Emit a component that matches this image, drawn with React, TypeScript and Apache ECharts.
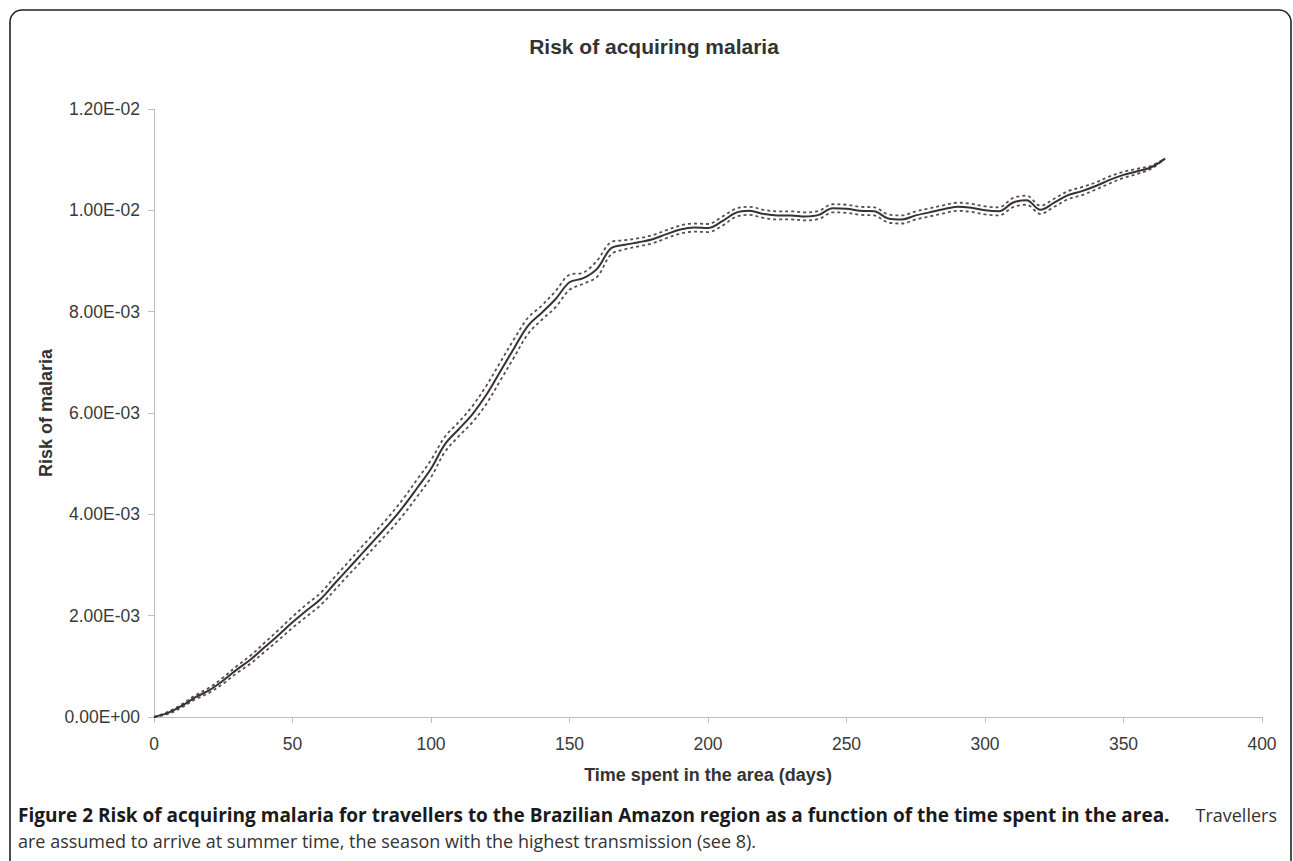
import React, { useEffect, useRef } from "react";
import * as echarts from "echarts";

const days = [0, 5, 10, 15, 20, 25, 30, 35, 40, 45, 50, 55, 60, 65, 70, 75, 80, 85, 90, 95, 100, 105, 110, 115, 120, 125, 130, 135, 140, 145, 150, 155, 160, 165, 170, 175, 180, 185, 190, 195, 200, 205, 210, 215, 220, 225, 230, 235, 240, 245, 250, 255, 260, 265, 270, 275, 280, 285, 290, 295, 300, 305, 310, 315, 320, 325, 330, 335, 340, 345, 350, 355, 360, 365];

const risk = [0, 0.00008, 0.00022, 0.00039, 0.00053, 0.00072, 0.00094, 0.00114, 0.00138, 0.00162, 0.00187, 0.0021, 0.00232, 0.00262, 0.00292, 0.00322, 0.00352, 0.00382, 0.00415, 0.00452, 0.0049, 0.00538, 0.00568, 0.00598, 0.00636, 0.00682, 0.00728, 0.00772, 0.00798, 0.00825, 0.00858, 0.00866, 0.00885, 0.00925, 0.00932, 0.00937, 0.00943, 0.00953, 0.00962, 0.00966, 0.00965, 0.00978, 0.00995, 0.00999, 0.00993, 0.0099, 0.0099, 0.00988, 0.00991, 0.01004, 0.01003, 0.00999, 0.00998, 0.00984, 0.00982, 0.0099, 0.00996, 0.01002, 0.01007, 0.01005, 0.01, 0.00998, 0.01015, 0.0102, 0.01001, 0.01015, 0.0103, 0.01038, 0.01048, 0.0106, 0.0107, 0.01077, 0.01085, 0.01102];

const riskUpper = [0, 0.0001, 0.00025, 0.00043, 0.00058, 0.00078, 0.00101, 0.00122, 0.00147, 0.00172, 0.00198, 0.00222, 0.00244, 0.00275, 0.00305, 0.00336, 0.00366, 0.00397, 0.00431, 0.00469, 0.00507, 0.00553, 0.00582, 0.00614, 0.00654, 0.007, 0.00746, 0.00788, 0.00812, 0.00841, 0.00873, 0.00877, 0.00901, 0.00937, 0.00941, 0.00945, 0.00951, 0.00961, 0.0097, 0.00974, 0.00973, 0.00987, 0.01003, 0.01007, 0.01001, 0.00998, 0.00998, 0.00996, 0.00999, 0.01012, 0.01011, 0.01007, 0.01006, 0.00992, 0.0099, 0.00998, 0.01004, 0.0101, 0.01015, 0.01013, 0.01008, 0.01006, 0.01024, 0.01029, 0.01009, 0.01023, 0.01038, 0.01046, 0.01055, 0.01067, 0.01076, 0.01082, 0.01088, 0.01102];

const riskLower = [0, 0.00006, 0.00019, 0.00035, 0.00048, 0.00066, 0.00087, 0.00106, 0.00129, 0.00152, 0.00176, 0.00198, 0.0022, 0.00249, 0.00279, 0.00308, 0.00338, 0.00367, 0.00399, 0.00435, 0.00473, 0.00523, 0.00554, 0.00582, 0.00618, 0.00664, 0.0071, 0.00756, 0.00784, 0.00809, 0.00843, 0.00855, 0.00869, 0.00913, 0.00923, 0.00929, 0.00935, 0.00945, 0.00954, 0.00958, 0.00957, 0.00969, 0.00987, 0.00991, 0.00985, 0.00982, 0.00982, 0.0098, 0.00983, 0.00996, 0.00995, 0.00991, 0.0099, 0.00976, 0.00974, 0.00982, 0.00988, 0.00994, 0.00999, 0.00997, 0.00992, 0.0099, 0.01006, 0.01011, 0.00993, 0.01007, 0.01022, 0.0103, 0.01041, 0.01053, 0.01064, 0.01072, 0.01082, 0.01102];

const titleText = "Risk of acquiring malaria";
const xAxisTitle = "Time spent in the area (days)";
const yAxisTitle = "Risk of malaria";
const captionBold = "Figure 2 Risk of acquiring malaria for travellers to the Brazilian Amazon region as a function of the time spent in the area.";
const captionTail = "Travellers";
const captionLine2 = "are assumed to arrive at summer time, the season with the highest transmission (see 8).";

function fmtExp(v: number): string {
  if (v === 0) return "0.00E+00";
  const s = v.toExponential(2);
  const [m, e] = s.split("e");
  const sign = e[0] === "-" ? "-" : "+";
  const digits = e.replace(/[+-]/, "").padStart(2, "0");
  return `${m}E${sign}${digits}`;
}

export default function App() {
  const ref = useRef<HTMLDivElement>(null);
  useEffect(() => {
    if (!ref.current) return;
    const chart = echarts.init(ref.current, null, { renderer: "svg" });
    const pts = (arr: number[]) => days.map((d, i) => [d, arr[i]]);
    const font = "'Liberation Sans', Arial, sans-serif";
    const capFont = "'Open Sans', 'Noto Sans', sans-serif";
    chart.setOption({
      animation: false,
      backgroundColor: "#ffffff",
      grid: { left: 154, right: 31, top: 109, bottom: 144, containLabel: false },
      xAxis: {
        type: "value",
        min: 0,
        max: 400,
        interval: 50,
        axisLine: { show: true, lineStyle: { color: "#bdbdbd", width: 1 } },
        axisTick: { show: true, length: 6, lineStyle: { color: "#bdbdbd" } },
        splitLine: { show: false },
        axisLabel: { color: "#3a3a3a", fontSize: 17.5, fontFamily: font, margin: 18 },
      },
      yAxis: {
        type: "value",
        min: 0,
        max: 0.012,
        interval: 0.002,
        axisLine: { show: true, lineStyle: { color: "#bdbdbd", width: 1 } },
        axisTick: { show: true, length: 6, lineStyle: { color: "#bdbdbd" } },
        splitLine: { show: false },
        axisLabel: { color: "#3a3a3a", fontSize: 17.5, fontFamily: font, margin: 14, formatter: (v: number) => fmtExp(v) },
      },
      series: [
        {
          type: "line",
          data: pts(riskUpper),
          smooth: 0.35,
          showSymbol: false,
          lineStyle: { color: "#555058", width: 1.8, type: [3, 3] },
          z: 2,
        },
        {
          type: "line",
          data: pts(riskLower),
          smooth: 0.35,
          showSymbol: false,
          lineStyle: { color: "#555058", width: 1.8, type: [3, 3] },
          z: 2,
        },
        {
          type: "line",
          data: pts(risk),
          smooth: 0.35,
          showSymbol: false,
          lineStyle: { color: "#3a3036", width: 2 },
          z: 3,
        },
      ],
      graphic: [
        {
          type: "rect",
          shape: { x: 10, y: 10, width: 1281, height: 900, r: 12 },
          style: { fill: "none", stroke: "#222", lineWidth: 1.6 },
          silent: true,
        },
        {
          type: "text",
          x: 654,
          y: 46,
          style: { text: titleText, font: `bold 21px ${font}`, fill: "#333", align: "center", verticalAlign: "middle" },
        },
        {
          type: "text",
          x: 708,
          y: 775,
          style: { text: xAxisTitle, font: `bold 18px ${font}`, fill: "#333", align: "center", verticalAlign: "middle" },
        },
        {
          type: "text",
          x: 46,
          y: 413,
          rotation: Math.PI / 2,
          style: { text: yAxisTitle, font: `bold 18px ${font}`, fill: "#333", align: "center", verticalAlign: "middle" },
        },
        {
          type: "text",
          x: 18,
          y: 815,
          style: { text: captionBold, font: `bold 19px ${capFont}`, fill: "#1a1a1a", align: "left", verticalAlign: "middle" },
        },
        {
          type: "text",
          x: 1277,
          y: 815,
          style: { text: captionTail, font: `18px ${capFont}`, fill: "#333", align: "right", verticalAlign: "middle" },
        },
        {
          type: "text",
          x: 18,
          y: 841,
          style: { text: captionLine2, font: `18px ${capFont}`, fill: "#333", align: "left", verticalAlign: "middle" },
        },
      ],
    });
    return () => chart.dispose();
  }, []);
  return (
    <div
      ref={ref}
      style={{ position: "fixed", left: 0, top: 0, width: 1293, height: 861, background: "#fff" }}
    />
  );
}
